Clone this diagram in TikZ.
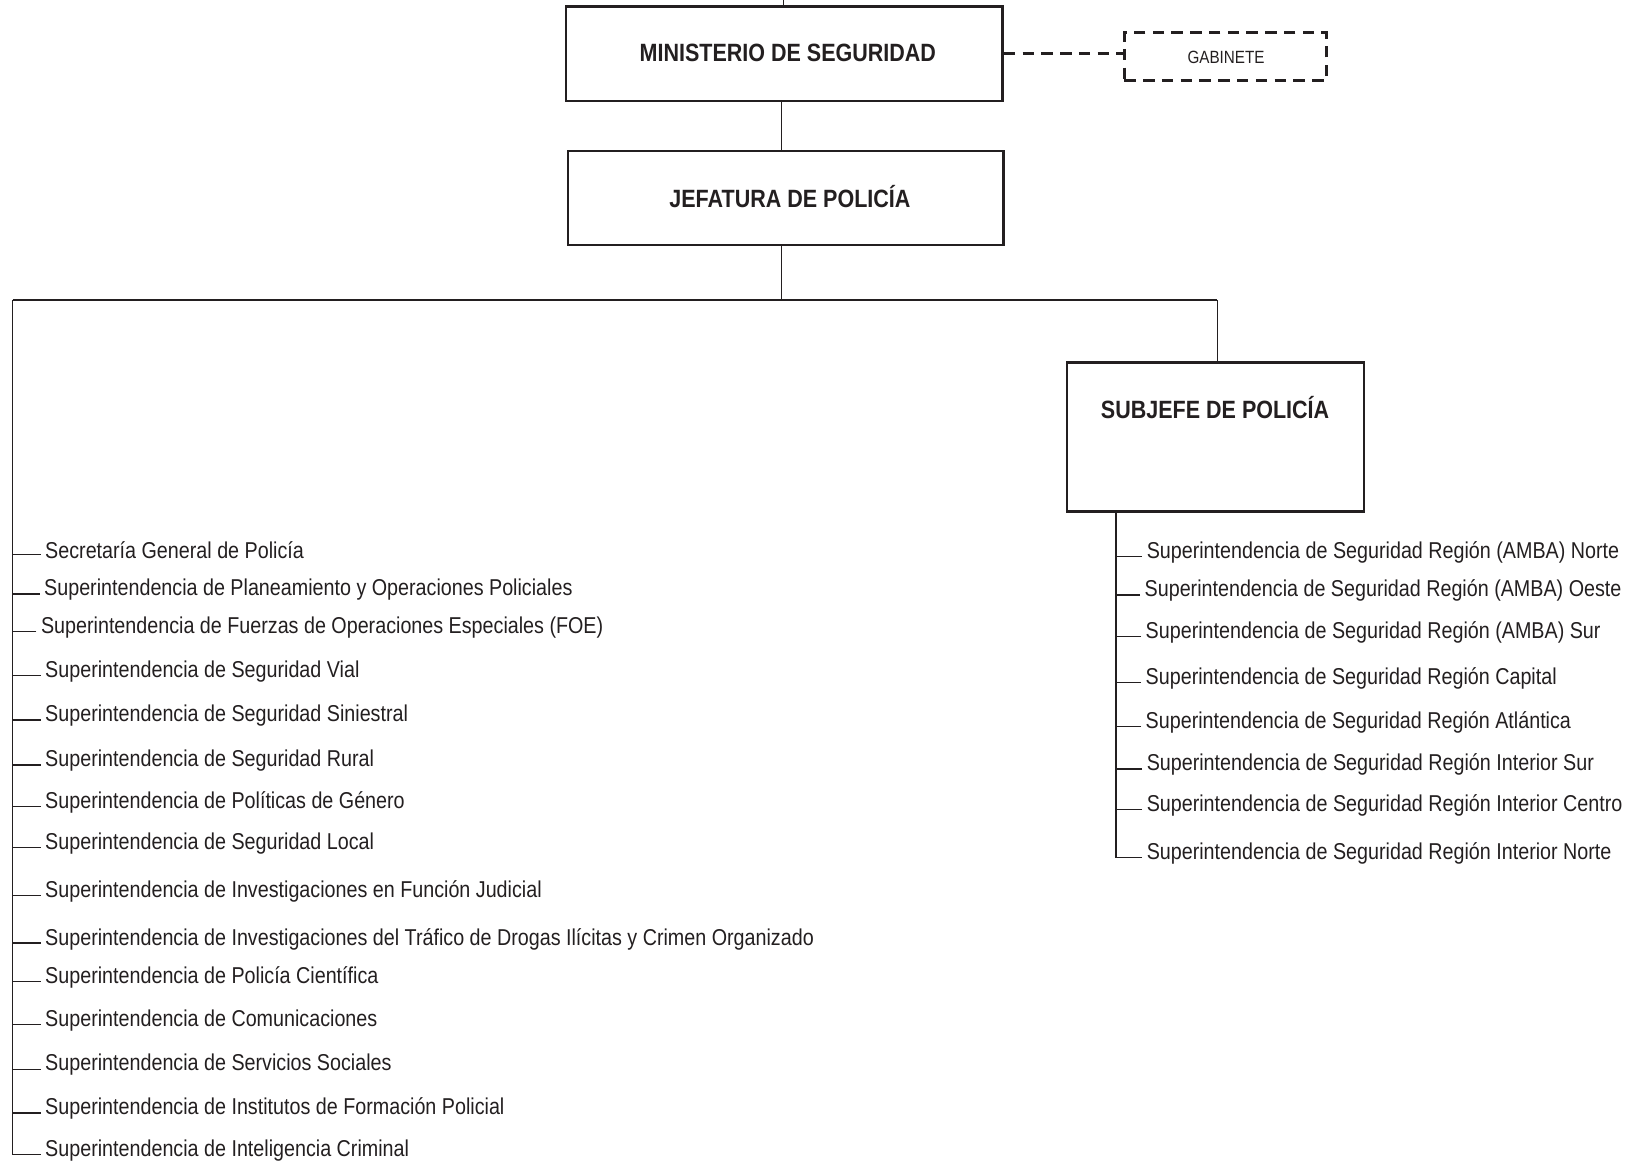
\documentclass[tikz,border=0pt]{standalone}
\usepackage{fontspec}
\setmainfont[FakeStretch=0.86]{Liberation Sans}
\definecolor{ink}{HTML}{231F20}
\begin{document}
\begin{tikzpicture}[x=0.5pt,y=-0.5pt,
  box/.style={draw=ink,line width=1.25pt,inner sep=0pt},
  head/.style={font=\fontsize{12}{14}\selectfont\bfseries,text=ink},
  item/.style={anchor=west,inner sep=2pt,font=\fontsize{11}{13}\selectfont,text=ink},
  conn/.style={draw=ink,line width=0.65pt},
  dashconn/.style={draw=ink,line width=1.3pt,dash pattern=on 5.5pt off 3.5pt}]
\useasboundingbox (0,0) rectangle (1567,1117);
% boxes
\node[box,minimum width=209.5pt,minimum height=45.5pt] (min) at (752.5,51.5) {};
\node[head] (mint) at (756,51) {MINISTERIO DE SEGURIDAD};
\node[box,dashconn,minimum width=97pt,minimum height=23pt] (gab) at (1176,54) {};
\node[font=\fontsize{8.5}{10}\selectfont,text=ink] (gabt) at (1176.5,55) {GABINETE};
\node[box,minimum width=209pt,minimum height=45pt] (jef) at (754,190) {};
\node[head] (jeft) at (758,189) {JEFATURA DE POLICÍA};
\node[box,minimum width=142.5pt,minimum height=71.5pt] (sub) at (1166.5,419.5) {};
\node[head] (subt) at (1166,391) {SUBJEFE DE POLICÍA};
% connectors top
\coordinate (top) at (752,0);
\coordinate (jb) at (750,288);
\coordinate (L0) at (12,288);
\coordinate (R0) at (1168,288);
\draw[conn] (top) -- (top |- min.north);
\draw[dashconn] (min.east) -- (min.east -| gab.west);
\draw[conn] (jb |- min.south) -- (jb |- jef.north);
\draw[conn] (jb |- jef.south) -- (jb);
\draw[conn] (L0) -- (R0);
\draw[conn] (R0) -- (R0 |- sub.north);
% left items
\foreach \n/\x/\y/\t in {
 1/39/528/{Secretaría General de Policía},
 2/38/566/{Superintendencia de Planeamiento y Operaciones Policiales},
 3/35/602/{Superintendencia de Fuerzas de Operaciones Especiales (FOE)},
 4/39/644/{Superintendencia de Seguridad Vial},
 5/39/687/{Superintendencia de Seguridad Siniestral},
 6/39/730/{Superintendencia de Seguridad Rural},
 7/39/770/{Superintendencia de Políticas de Género},
 8/39/809/{Superintendencia de Seguridad Local},
 9/39/855/{Superintendencia de Investigaciones en Función Judicial},
 10/39/901/{Superintendencia de Investigaciones del Tráfico de Drogas Ilícitas y Crimen Organizado},
 11/39/938/{Superintendencia de Policía Científica},
 12/39/979/{Superintendencia de Comunicaciones},
 13/39/1022/{Superintendencia de Servicios Sociales},
 14/39/1064/{Superintendencia de Institutos de Formación Policial},
 15/39/1104/{Superintendencia de Inteligencia Criminal}}{
  \node[item] (l\n) at (\x,\y) {\t};
  \draw[conn] ([yshift=-2pt]l\n.west) -- ([yshift=-2pt]l\n.west -| L0);
}
\draw[conn] (L0) -- ([yshift=-2pt]l15.west -| L0);
% right items
\coordinate (R1) at (1071,491);
\foreach \n/\x/\y/\t in {
 1/1096/530/{Superintendencia de Seguridad Región (AMBA) Norte},
 2/1094/567/{Superintendencia de Seguridad Región (AMBA) Oeste},
 3/1095/607/{Superintendencia de Seguridad Región (AMBA) Sur},
 4/1095/651/{Superintendencia de Seguridad Región Capital},
 5/1095/693/{Superintendencia de Seguridad Región Atlántica},
 6/1096/734/{Superintendencia de Seguridad Región Interior Sur},
 7/1096/773/{Superintendencia de Seguridad Región Interior Centro},
 8/1096/819/{Superintendencia de Seguridad Región Interior Norte}}{
  \node[item] (r\n) at (\x,\y) {\t};
  \draw[conn] ([yshift=-2pt]r\n.west) -- ([yshift=-2pt]r\n.west -| R1);
}
\draw[conn] (R1 |- sub.south) -- ([yshift=-2pt]r8.west -| R1);
\end{tikzpicture}
\end{document}
